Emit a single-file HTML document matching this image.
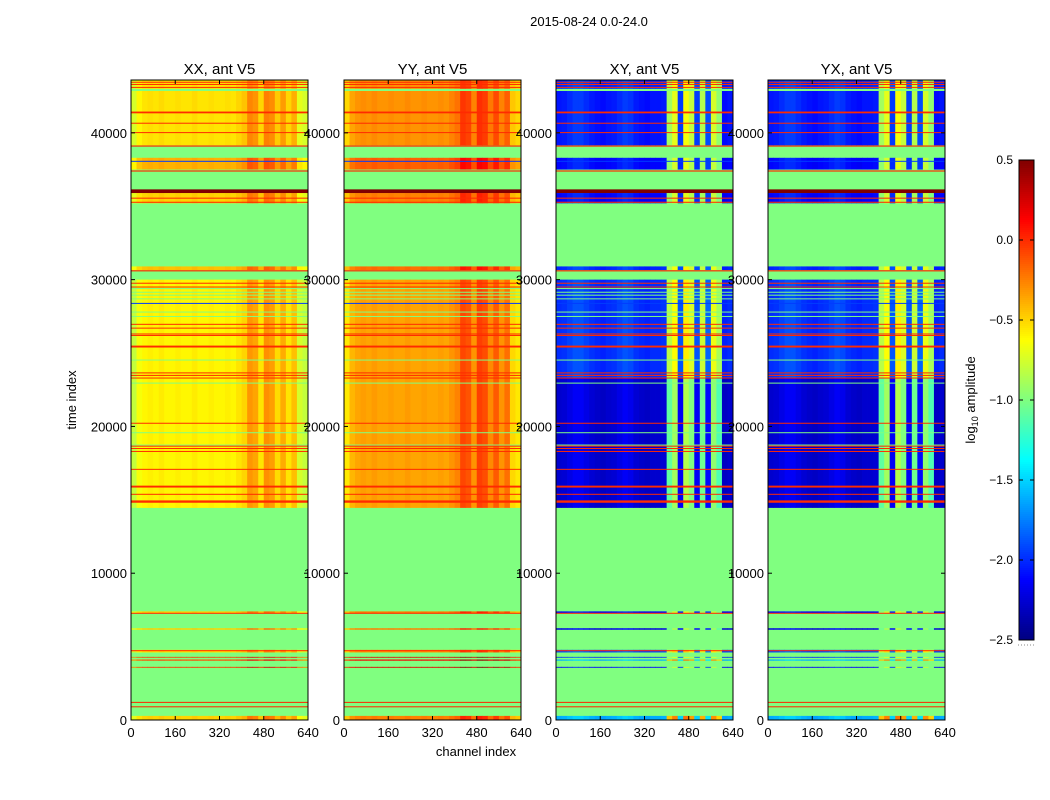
<!DOCTYPE html>
<html><head><meta charset="utf-8"><style>
body{margin:0;background:#fff;}
svg{display:block;font-family:"Liberation Sans",sans-serif;}
</style></head><body>
<svg id="fig" width="1050" height="800" viewBox="0 0 1050 800"></svg>
<script>
// ---- data ----
const panelTitles = ["XX, ant V5","YY, ant V5","XY, ant V5","YX, ant V5"];
const panelKind = ["auto","auto","cross","cross"];
const panelBase = [-0.6,-0.36,-2.15,-2.15];
const xTicks = [0,160,320,480,640];
const yTicks = [0,10000,20000,30000,40000];
const cbTicks = [0.5,0.0,-0.5,-1.0,-1.5,-2.0,-2.5];
// channel profiles per 20-channel bin (32 bins)
const autoProfile = [-0.2,-0.05,0,0.02,0,0.03,0,0,0.02,0,0,0.03,0,0,0.02,0,0,0.02,0,0.05,0.1,0.28,0.24,0.05,0.3,0.26,0.08,0.22,0.05,0.16,-0.15,-0.2];
const crossProfile = [0.03,0.05,0.1,0.15,0.15,0.1,0.05,0.02,0.0,0.03,0.05,0.1,0.15,0.12,0.05,0.02,0.0,0.03,0.03,0.05,1.2,1.4,0.15,1.45,1.3,0.15,1.25,0.2,1.35,1.15,0.0,0.03];
// data segments (time index), with per-segment offsets
const segStart = [0,3560,4040,4250,4600,6150,7250,14450,30650,35200,37500,39150,43000];
const segEnd   = [280,3620,4120,4300,4780,6250,7400,30000,30900,35900,38300,42850,43600];
const segAutoOff = [0.1,0.55,0.5,0.55,0.05,0.1,0.1,0,0.15,0.1,0.2,0.05,0.05];
const segCrossOff= [0.5,0,0.5,0.1,0.2,-0.1,0,0,0.1,0,0,0,0.1];
// sub-bands of darker/lighter cross values
const crossBandStart=[14450,23300,39150];
const crossBandEnd=[23300,30000,42850];
const crossBandOff=[-0.15,0.12,0.05];
// line flags
const redLines=[900,1200,7270,4720,35550,35270,30600,29760,29500,26960,26700,26300,26200,25440,23650,23480,23300,20220,18660,18500,18300,17080,15900,15380,14880,37400,39100,40020,40660,41390,43100,43300,43450];
const redWidth=[70,70,70,70,70,70,80,60,60,60,60,60,60,130,60,60,60,60,60,60,60,60,130,60,160,80,80,60,60,120,60,60,60];
const greenLines=[29400,29150,28700,27800,24530,22960,19580,18740,42900,28950,27500];
const blueLines=[28390,38070];
const darkRed=[35900,36150];
// ---- layout ----
const panelsX=[131,344,556,768], PW=177, PT=80, PB=720, TMAX=43600;
const svg=document.getElementById('fig');
const NS="http://www.w3.org/2000/svg";
function el(tag,attrs,parent){const e=document.createElementNS(NS,tag);for(const k in attrs)e.setAttribute(k,attrs[k]);(parent||svg).appendChild(e);return e;}
function jet(v){let x=(v+2.5)/3;x=Math.max(0,Math.min(1,x));
 const c=t=>Math.round(255*Math.max(0,Math.min(1,1.5-Math.abs(t))));
 return `rgb(${c(4*x-3)},${c(4*x-2)},${c(4*x-1)})`;}
function ty(t){return PB-(t/TMAX)*(PB-PT);}
function cx(px,ch){return px+ch/640*PW;}

panelsX.forEach((px,pi)=>{
 const g=el('g',{});
 
 
 const bg=el('rect',{x:px,y:PT,width:PW,height:PB-PT,fill:jet(-1.0)},g);
 
 
 const kind=panelKind[pi];
 const prof=kind==='auto'?autoProfile:crossProfile;
 segStart.forEach((s,si)=>{
  const e=segEnd[si];
  let subs=[[s,e,0]];
  if(kind==='cross'){subs=[];let cur=s;
   crossBandStart.forEach((bs,bi)=>{const be=crossBandEnd[bi];
    if(be<=s||bs>=e)return; if(bs>cur)subs.push([cur,bs,0]);
    subs.push([Math.max(bs,s),Math.min(be,e),crossBandOff[bi]]);cur=Math.min(be,e);});
   if(cur<e)subs.push([cur,e,0]);}
  subs.forEach(sb=>{
   prof.forEach((p,bi)=>{
    const off=kind==='auto'?segAutoOff[si]:segCrossOff[si]+sb[2];
    const v=panelBase[pi]+off+p;
    const y1=ty(sb[1]),y0=ty(sb[0]);
    const r=el('rect',{x:cx(px,bi*20).toFixed(2),y:y1.toFixed(2),width:(PW/32+0.4).toFixed(2),height:Math.max(0.8,y0-y1).toFixed(2),fill:jet(v)},g);
    
    
   });
  });
 });
 function line(t,w,val,name){const y1=ty(t+w/2),y0=ty(t-w/2);
  const r=el('rect',{x:px,y:y1.toFixed(2),width:PW,height:Math.max(1,y0-y1).toFixed(2),fill:jet(val)},g);
  
  }
 greenLines.forEach(t=>line(t,50,-1.0,'flag-line'));
 blueLines.forEach(t=>line(t,50,-1.95,'blue-line'));
 redLines.forEach((t,i)=>line(t,redWidth[i],0.0,'red-line'));
 line((darkRed[0]+darkRed[1])/2,darkRed[1]-darkRed[0],0.5,'dark-red-band');
 const fr=el('rect',{x:px,y:PT,width:PW,height:PB-PT,fill:'none',stroke:'#000','stroke-width':1},g);
 
 
 xTicks.forEach(t=>{const x=cx(px,t);
  el('line',{x1:x,x2:x,y1:PB,y2:PB-4,stroke:'#000'},g);
  el('line',{x1:x,x2:x,y1:PT,y2:PT+4,stroke:'#000'},g);
  const tx=el('text',{x:x,y:PB+17,'font-size':13,'text-anchor':'middle',fill:'#000'},g);
  tx.textContent=t;
  
  });
 yTicks.forEach(t=>{const y=ty(t);
  el('line',{x1:px,x2:px+4,y1:y,y2:y,stroke:'#000'},g);
  el('line',{x1:px+PW,x2:px+PW-4,y1:y,y2:y,stroke:'#000'},g);
  const tx=el('text',{x:px-4,y:y+5,'font-size':13,'text-anchor':'end',fill:'#000'},g);
  tx.textContent=t;
  
  });
 const tt=el('text',{x:px+PW/2,y:74,'font-size':15,'text-anchor':'middle',fill:'#000'},g);
 tt.textContent=panelTitles[pi];
 
 
});
let t=el('text',{x:589,y:26,'font-size':13,'text-anchor':'middle'});t.textContent='2015-08-24 0.0-24.0';


t=el('text',{x:476,y:756,'font-size':13,'text-anchor':'middle'});t.textContent='channel index';


t=el('text',{x:0,y:0,'font-size':13,'text-anchor':'middle',transform:'translate(76,400) rotate(-90)'});t.textContent='time index';


const CB={x:1019,w:15,top:160,bot:640};
const cbg=el('g',{});


for(let i=0;i<240;i++){const y=CB.top+i*2;const v=0.5-(i+0.5)/240*3;
 el('rect',{x:CB.x,y:y,width:CB.w,height:2.2,fill:jet(v)},cbg);}
el('rect',{x:CB.x,y:CB.top,width:CB.w,height:CB.bot-CB.top,fill:'none',stroke:'#000'},cbg);
cbTicks.forEach(v=>{const y=CB.top+(0.5-v)/3*(CB.bot-CB.top);
 el('line',{x1:CB.x+CB.w,x2:CB.x+CB.w-4,y1:y,y2:y,stroke:'#000'},cbg);
 el('line',{x1:CB.x,x2:CB.x+4,y1:y,y2:y,stroke:'#000'},cbg);
 const tx=el('text',{x:1013,y:y+4,'font-size':12,'text-anchor':'end'},cbg);
 tx.textContent=v.toFixed(1).replace('-','\u2212');
 
 });
el('line',{x1:1018,x2:1035,y1:645,y2:645,stroke:'#888','stroke-dasharray':'1,2'},cbg);
t=el('text',{x:0,y:0,'font-size':13,'text-anchor':'middle',transform:'translate(975,400) rotate(-90)'},cbg);
t.innerHTML='log<tspan font-size="9" dy="3">10</tspan><tspan dy="-3"> amplitude</tspan>';


</script>
</body></html>
